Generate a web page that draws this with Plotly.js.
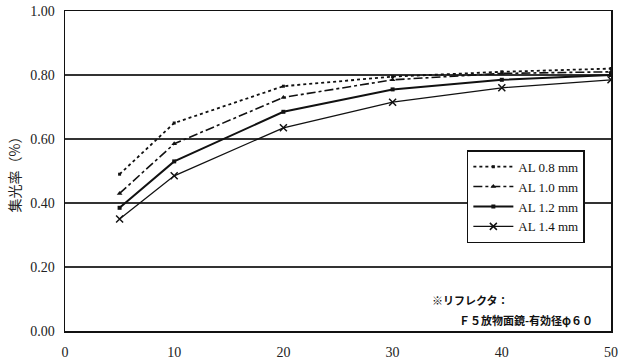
<!DOCTYPE html>
<html><head><meta charset="utf-8">
<script src="https://cdn.plot.ly/plotly-3.0.1.min.js"></script>
<style>html,body{margin:0;padding:0;background:#fff}</style>
</head><body><div id="chart" style="width:620px;height:364px"></div>
<script>
var xVals = [5, 10, 20, 30, 40, 50];
var seriesNames = ["AL 0.8 mm", "AL 1.0 mm", "AL 1.2 mm", "AL 1.4 mm"];
var al08 = [0.49, 0.65, 0.765, 0.795, 0.81, 0.82];
var al10 = [0.43, 0.585, 0.73, 0.785, 0.805, 0.81];
var al12 = [0.385, 0.53, 0.685, 0.755, 0.785, 0.80];
var al14 = [0.35, 0.485, 0.635, 0.715, 0.76, 0.785];
var yTicks = [0, 0.2, 0.4, 0.6, 0.8, 1.0];
var yTickText = ["0.00", "0.20", "0.40", "0.60", "0.80", "1.00"];
var xTicks = [0, 10, 20, 30, 40, 50];

var styles = [
  {dash: "dot", width: 1.8, marker: {symbol: "square", size: 3}},
  {dash: "dashdot", width: 1.6, marker: {symbol: "triangle-up", size: 5}},
  {dash: "solid", width: 2, marker: {symbol: "square", size: 4}},
  {dash: "solid", width: 1.3, marker: {symbol: "x-thin-open", size: 7, line: {width: 1.5, color: "#111"}}}
];
var data = [al08, al10, al12, al14].map(function (ys, i) {
  var m = Object.assign({color: "#111"}, styles[i].marker);
  return {
    x: xVals, y: ys, name: seriesNames[i], type: "scatter", mode: "lines+markers",
    line: {color: "#111", width: styles[i].width, dash: styles[i].dash},
    marker: m
  };
});

var layout = {
  width: 620, height: 364,
  margin: {l: 65, r: 9, t: 11, b: 33},
  paper_bgcolor: "#fff", plot_bgcolor: "#fff",
  showlegend: true,
  font: {family: "Liberation Serif, serif", color: "#222", size: 14},
  xaxis: {
    range: [0, 50], tickvals: xTicks, showgrid: false, zeroline: false,
    showline: true, linecolor: "#111", linewidth: 1.5, mirror: true,
    ticks: "", ticklabelstandoff: 8,
    tickfont: {family: "Liberation Serif, serif", size: 14, color: "#222"}
  },
  yaxis: {
    range: [0, 1], tickvals: yTicks, ticktext: yTickText,
    showgrid: true, gridcolor: "#333", gridwidth: 1.2, zeroline: false,
    showline: true, linecolor: "#111", linewidth: 1.5, mirror: true,
    ticks: "", ticklabelstandoff: 6,
    tickfont: {family: "Liberation Serif, serif", size: 14, color: "#222"},
    title: {text: "集光率（%）", font: {family: "Noto Sans CJK JP", size: 14, color: "#222"}, standoff: 6}
  },
  legend: {
    x: 0.736, y: 0.565, xanchor: "left", yanchor: "top",
    bgcolor: "#fff", bordercolor: "#111", borderwidth: 1.5,
    font: {family: "Liberation Serif, serif", size: 13, color: "#111"},
    tracegroupgap: 0, itemwidth: 40
  },
  annotations: [
    {xref: "paper", yref: "paper", x: 0.668, y: 0.097, xanchor: "left", yanchor: "middle",
     text: "<b>※リフレクタ：</b>", showarrow: false,
     font: {family: "Noto Sans CJK JP", size: 11, color: "#111"}},
    {xref: "paper", yref: "paper", x: 0.97, y: 0.034, xanchor: "right", yanchor: "middle",
     text: "<b>Ｆ５放物面鏡-有効径φ６０</b>", showarrow: false,
     font: {family: "Noto Sans CJK JP", size: 11, color: "#111"}}
  ]
};
Plotly.newPlot("chart", data, layout, {displayModeBar: false, staticPlot: true});
</script></body></html>
